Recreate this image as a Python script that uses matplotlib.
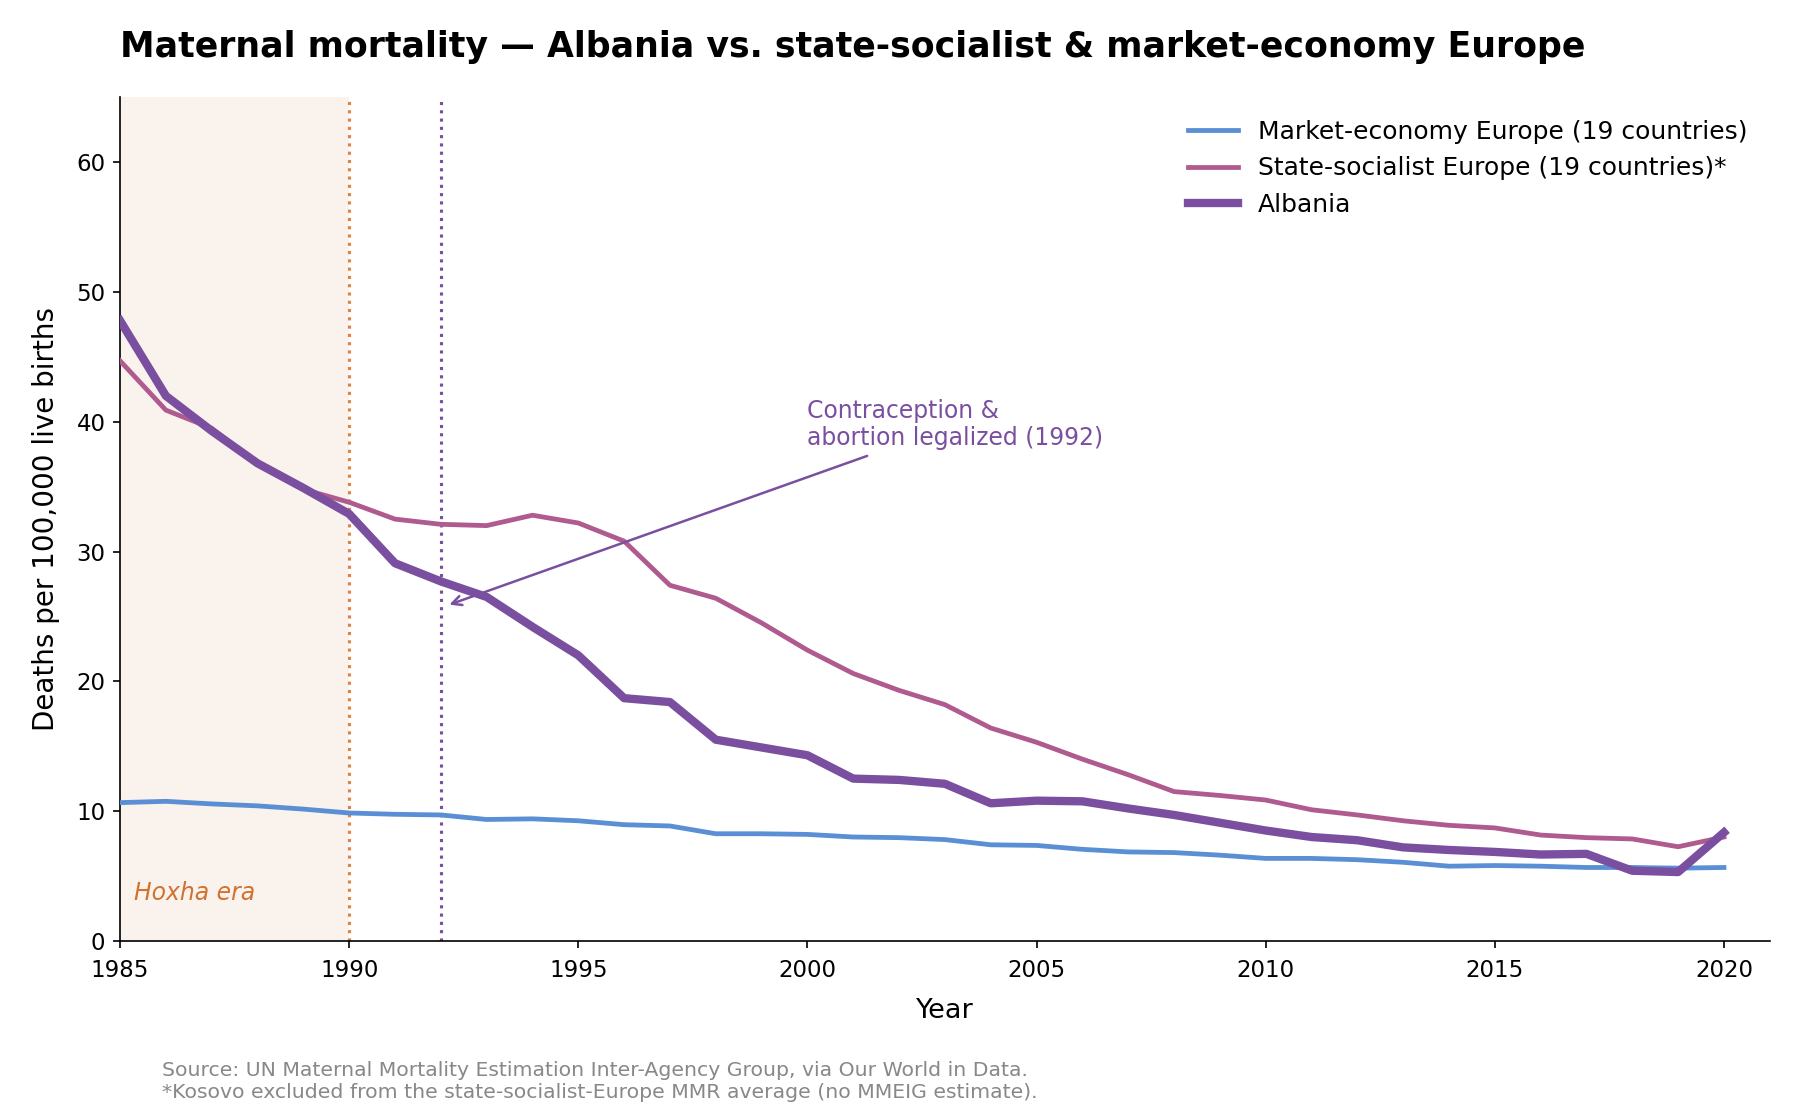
import numpy as np
import matplotlib
matplotlib.use("Agg")
import matplotlib.pyplot as plt

years = np.arange(1985, 2021)

market = [10.65, 10.75, 10.55, 10.4, 10.15, 9.85, 9.75, 9.7, 9.35, 9.4, 9.25, 8.95,
          8.85, 8.25, 8.25, 8.2, 8.0, 7.95, 7.8, 7.4, 7.35, 7.05, 6.85, 6.8,
          6.6, 6.35, 6.35, 6.25, 6.05, 5.75, 5.8, 5.75, 5.65, 5.65, 5.6, 5.65]

socialist = [44.7, 40.9, 39.5, 36.8, 34.8, 33.8, 32.5, 32.1, 32.0, 32.8, 32.2, 30.8,
             27.4, 26.4, 24.5, 22.4, 20.6, 19.3, 18.2, 16.4, 15.3, 14.0, 12.8, 11.5,
             11.2, 10.85, 10.1, 9.7, 9.25, 8.9, 8.7, 8.15, 7.95, 7.85, 7.25, 8.0]

albania = [47.8, 42.0, 39.3, 36.8, 34.9, 32.9, 29.1, 27.7, 26.5, 24.2, 22.0, 18.7,
           18.4, 15.5, 14.9, 14.3, 12.5, 12.4, 12.1, 10.6, 10.8, 10.75, 10.2, 9.7,
           9.1, 8.5, 8.0, 7.75, 7.2, 7.0, 6.85, 6.65, 6.7, 5.4, 5.3, 8.35]

c_market = "#5b8fd5"
c_soc = "#b05b8f"
c_alb = "#7a4fa0"
c_hoxha = "#d2722f"

fig = plt.figure(figsize=(12, 7.4667), dpi=150)
ax = fig.add_axes([0.0667, 0.160, 0.9165, 0.753])

ax.axvspan(1985, 1990, color="#f6e4d6", alpha=0.45, lw=0, zorder=0)
ax.axvline(1990, color="#dc8448", ls=":", lw=1.5, zorder=1)
ax.axvline(1992, color=c_alb, ls=":", lw=1.5, zorder=1)

ax.plot(years, market, color=c_market, lw=2.3, label="Market-economy Europe (19 countries)", zorder=3)
ax.plot(years, socialist, color=c_soc, lw=2.3, label="State-socialist Europe (19 countries)*", zorder=3)
ax.plot(years, albania, color=c_alb, lw=4, label="Albania", zorder=4)

ax.text(1985.3, 3.65, "Hoxha era", color=c_hoxha, style="italic", fontsize=11.3,
        ha="left", va="center")

ax.annotate("Contraception &\nabortion legalized (1992)", xy=(1992.1, 25.8),
            xytext=(2000, 37.8), ha="left", va="bottom", color=c_alb, fontsize=11.3,
            arrowprops=dict(arrowstyle="->", color=c_alb, lw=1.2))

ax.set_xlim(1985, 2021)
ax.set_ylim(0, 65)
ax.set_xticks(np.arange(1985, 2021, 5))
ax.set_yticks(np.arange(0, 61, 10))
ax.tick_params(labelsize=11)
ax.tick_params(axis="x", pad=5)
ax.set_xlabel("Year", fontsize=13, labelpad=8)
ax.set_ylabel("Deaths per 100,000 live births", fontsize=13.3, labelpad=8)
ax.spines["top"].set_visible(False)
ax.spines["right"].set_visible(False)

ax.legend(loc="upper right", frameon=False, fontsize=12, handlelength=2.0)

fig.text(0.0667, 0.958, "Maternal mortality \u2014 Albania vs. state-socialist & market-economy Europe",
         fontsize=16.7, fontweight="bold", ha="left", va="center")
fig.text(0.09, 0.034, "Source: UN Maternal Mortality Estimation Inter-Agency Group, via Our World in Data.\n"
         "*Kosovo excluded from the state-socialist-Europe MMR average (no MMEIG estimate).",
         fontsize=9.75, color="#888888", ha="left", va="center", linespacing=1.2)

fig.savefig("out.png", dpi=150)
